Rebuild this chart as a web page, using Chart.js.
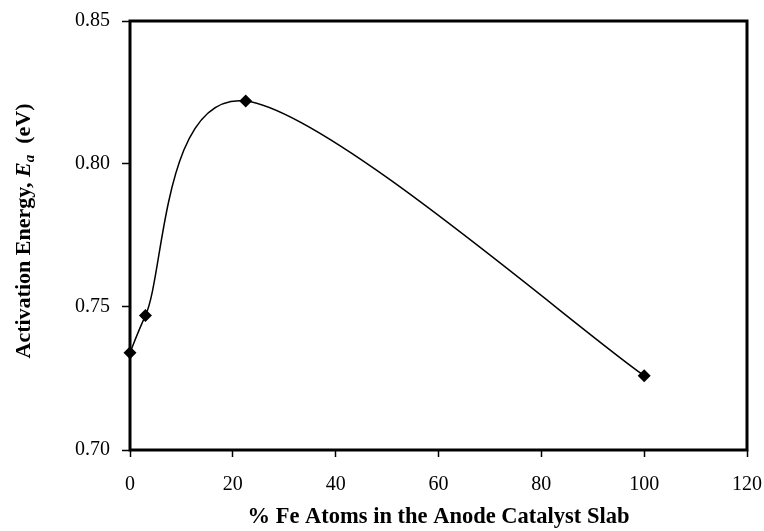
<!DOCTYPE html>
<html>
<head>
<meta charset="utf-8">
<script src="https://cdn.jsdelivr.net/npm/chart.js@4/dist/chart.umd.min.js"></script>
<style>
  html, body { margin: 0; padding: 0; background: #ffffff; }
  #wrap { width: 764px; height: 531px; }
</style>
</head>
<body>
<div id="wrap"><canvas id="chart" width="764" height="531"></canvas></div>
<script>
// Fe content of the anode catalyst slab (%) and the corresponding activation energy (eV)
const feContent = [0, 3, 22.5, 100];
const activationEnergy = [0.734, 0.747, 0.822, 0.726];

// Axis ranges and tick spacing
const xRange = [0, 120];
const xStep = 20;
const yRange = [0.70, 0.85];
const yStep = 0.05;

const xTitle = '% Fe Atoms in the Anode Catalyst Slab';
const yTitleParts = [
  { text: 'Activation Energy, ', style: 'bold', size: 22, shift: 0 },
  { text: 'E', style: 'italic bold', size: 22, shift: 0 },
  { text: 'a', style: 'italic bold', size: 15, shift: 4 },
  { text: '  (eV)', style: 'bold', size: 22, shift: 0 }
];

const SERIF = '"Liberation Serif", "Times New Roman", serif';

// Smooth the line with Catmull-Rom style control points; each handle is
// limited to half of the segment it points into so short segments stay clean
const smoothCurve = {
  id: 'smoothCurve',
  beforeDatasetDraw(chart, args) {
    const meta = args.meta;
    const line = meta.dataset;
    if (!line || typeof line.updateControlPoints !== 'function') return;
    line.updateControlPoints(chart.chartArea, meta.iScale.axis);
    const pts = meta.data;
    const n = pts.length;
    const dist = (a, b) => Math.hypot(b.x - a.x, b.y - a.y);
    for (let i = 0; i < n; i++) {
      const p = pts[i];
      const prev = pts[Math.max(i - 1, 0)];
      const next = pts[Math.min(i + 1, n - 1)];
      const tx = (next.x - prev.x) / 6;
      const ty = (next.y - prev.y) / 6;
      const tl = Math.hypot(tx, ty) || 1;
      const sPrev = Math.min(1, 0.5 * dist(prev, p) / tl);
      const sNext = Math.min(1, 0.5 * dist(p, next) / tl);
      p.cp1x = p.x - tx * sPrev; p.cp1y = p.y - ty * sPrev;
      p.cp2x = p.x + tx * sNext; p.cp2y = p.y + ty * sNext;
    }
  }
};

// Box around the plot area and the rotated y-axis title
const frameAndTitle = {
  id: 'frameAndTitle',
  beforeDatasetsDraw(chart) {
    const { ctx, chartArea: a } = chart;
    ctx.save();
    ctx.strokeStyle = '#000';
    ctx.lineWidth = 3;
    ctx.strokeRect(a.left, a.top, a.right - a.left, a.bottom - a.top);
    ctx.restore();
  },
  afterDraw(chart) {
    const { ctx } = chart;
    ctx.save();
    let total = 0;
    yTitleParts.forEach(p => {
      ctx.font = `${p.style} ${p.size}px ${SERIF}`;
      p.w = ctx.measureText(p.text).width;
      total += p.w;
    });
    ctx.translate(30, 231);
    ctx.rotate(-Math.PI / 2);
    ctx.fillStyle = '#000';
    ctx.textBaseline = 'alphabetic';
    let x = -total / 2;
    yTitleParts.forEach(p => {
      ctx.font = `${p.style} ${p.size}px ${SERIF}`;
      ctx.fillText(p.text, x, p.shift);
      x += p.w;
    });
    ctx.restore();
  }
};

new Chart(document.getElementById('chart'), {
  type: 'scatter',
  data: {
    datasets: [{
      data: feContent.map((x, i) => ({ x, y: activationEnergy[i] })),
      showLine: true,
      tension: 0.4,
      borderColor: '#000',
      borderWidth: 1.5,
      pointStyle: 'rectRot',
      pointRadius: 6.5,
      pointHoverRadius: 6.5,
      pointBackgroundColor: '#000',
      pointBorderColor: '#000',
      pointBorderWidth: 0,
      clip: false
    }]
  },
  options: {
    responsive: false,
    animation: false,
    devicePixelRatio: 1,
    layout: { padding: { top: 21, right: 17, left: 0, bottom: 0 } },
    plugins: {
      legend: { display: false },
      tooltip: { enabled: false }
    },
    scales: {
      x: {
        type: 'linear',
        min: xRange[0],
        max: xRange[1],
        afterFit(scale) {
          scale.height = 81;
          scale.paddingLeft = 0;
          scale.paddingRight = 0;
        },
        ticks: {
          stepSize: xStep,
          color: '#000',
          font: { family: SERIF, size: 20 },
          padding: 16,
          maxRotation: 0
        },
        grid: {
          drawOnChartArea: false,
          drawTicks: true,
          tickLength: 7,
          tickWidth: 1.5,
          tickColor: '#000'
        },
        border: { display: false },
        title: {
          display: true,
          text: xTitle,
          color: '#000',
          font: { family: SERIF, size: 22.5, weight: 'bold' },
          padding: { top: 2, bottom: 0 }
        }
      },
      y: {
        type: 'linear',
        min: yRange[0],
        max: yRange[1],
        afterFit(scale) {
          scale.width = 130;
          scale.paddingTop = 0;
          scale.paddingBottom = 0;
        },
        ticks: {
          stepSize: yStep,
          color: '#000',
          font: { family: SERIF, size: 20 },
          padding: 12,
          callback: v => v.toFixed(2)
        },
        grid: {
          drawOnChartArea: false,
          drawTicks: true,
          tickLength: 8,
          tickWidth: 1.5,
          tickColor: '#000'
        },
        border: { display: false }
      }
    }
  },
  plugins: [smoothCurve, frameAndTitle]
});
</script>
</body>
</html>
